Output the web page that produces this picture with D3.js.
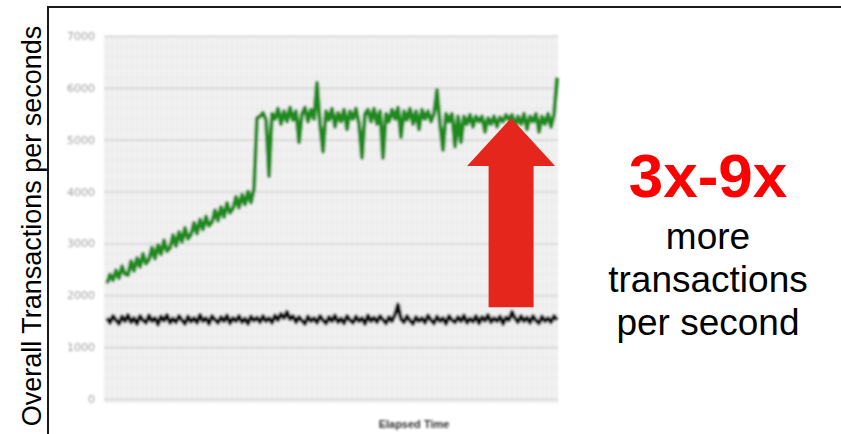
<!DOCTYPE html>
<html>
<head>
<meta charset="utf-8">
<script src="https://cdn.jsdelivr.net/npm/d3@7"></script>
<style>
  html, body { margin: 0; padding: 0; background: #fff; }
  svg { display: block; }
</style>
</head>
<body>
<svg id="chart" width="841" height="434"></svg>
<script>
// ---- data ----
const yTicks = [0, 1000, 2000, 3000, 4000, 5000, 6000, 7000];
const yTickLabels = ["0", "1000", "2000", "3000", "4000", "5000", "6000", "7000"];

// transactions per second, sampled evenly over the elapsed time
const greenTps = [
  2230, 2400, 2290, 2480, 2330, 2560, 2410, 2390, 2660, 2470,
  2720, 2550, 2800, 2610, 2690, 2920, 2710, 2970, 2790, 3060,
  2850, 2910, 3160, 2950, 3220, 3030, 3300, 3090, 3170, 3400,
  3190, 3460, 3270, 3520, 3340, 3410, 3640, 3440, 3700, 3510,
  3780, 3590, 3670, 3900, 3690, 3940, 3750, 4000, 3790, 4060,
  5420, 5450, 5520, 5380, 4300, 5500, 5400, 5600, 5300, 5550,
  5350, 5620, 5380, 5550, 4950, 5500, 5620, 5350, 5580, 5400,
  6100, 5300, 4770, 5550, 5380, 5600, 5250, 5520, 5350, 5580,
  5200, 5550, 5400, 5600, 5300, 4650, 5500, 5580, 5350, 5600,
  5300, 5550, 4650, 5500, 5350, 5580, 5400, 5620, 5050, 5550,
  5380, 5600, 5300, 5550, 5200, 5580, 5400, 5550, 5350, 5500,
  5960, 5300, 4800, 5500, 5350, 5500, 4870, 5450, 4950, 5450,
  5300, 5480, 5250, 5450, 5350, 5450, 5150, 5420, 5300, 5450,
  5250, 5430, 5350, 5480, 5380, 5480, 5250, 5450, 5300, 5500,
  5200, 5450, 5350, 5500, 5150, 5450, 5300, 5500, 5250, 5480,
  6200
];

const blackTps = [
  1560, 1470, 1600, 1520, 1450, 1590, 1500, 1620, 1480, 1560,
  1450, 1600, 1520, 1470, 1610, 1500, 1560, 1440, 1590, 1510,
  1620, 1470, 1550, 1480, 1600, 1520, 1450, 1590, 1490, 1560,
  1470, 1620, 1500, 1560, 1450, 1600, 1530, 1470, 1580, 1500,
  1610, 1460, 1560, 1500, 1600, 1480, 1550, 1450, 1590, 1510,
  1570, 1480, 1600, 1500, 1560, 1470, 1610, 1520, 1640, 1560,
  1680, 1540, 1600, 1480, 1580, 1510, 1450, 1590, 1500, 1560,
  1470, 1600, 1520, 1460, 1580, 1500, 1610, 1480, 1550, 1460,
  1600, 1520, 1470, 1590, 1500, 1560, 1450, 1610, 1500, 1570,
  1480, 1600, 1530, 1460, 1580, 1500, 1630, 1820, 1540, 1480,
  1600, 1510, 1450, 1580, 1500, 1560, 1470, 1610, 1520, 1460,
  1590, 1500, 1560, 1450, 1600, 1520, 1480, 1580, 1500, 1610,
  1470, 1550, 1490, 1600, 1460, 1580, 1510, 1620, 1480, 1560,
  1500, 1590, 1450, 1570, 1520, 1680, 1560, 1480, 1600, 1500,
  1570, 1470, 1600, 1510, 1460, 1590, 1500, 1560, 1480, 1600,
  1520
];

// improvement arrow: sample position and the range it spans
const arrowAt = [134.7];
const arrowRange = [1770, 5420];

const headline = ["3x-9x"];
const calloutLines = ["more", "transactions", "per second"];

// ---- layout ----
const svg = d3.select("#chart");
const panel = { left: 104, right: 558, top: 36, bottom: 403 };
const x = d3.scaleLinear().domain([0, greenTps.length - 1]).range([107, 557]);
const y = d3.scaleLinear().domain([0, 7000]).range([399, 36]);

const defs = svg.append("defs");
defs.append("filter").attr("id", "soft")
  .attr("x", "-5%").attr("y", "-5%").attr("width", "110%").attr("height", "110%")
  .append("feGaussianBlur").attr("stdDeviation", 0.85);

const chart = svg.append("g").attr("filter", "url(#soft)");

// plot background
chart.append("rect")
  .attr("x", panel.left).attr("y", panel.top)
  .attr("width", panel.right - panel.left).attr("height", panel.bottom - panel.top)
  .attr("fill", "#f2f2f2");

// fine grid
const minorY = d3.range(0, 7001, 200);
chart.append("g").selectAll("line.hminor").data(minorY).join("line")
  .attr("x1", panel.left).attr("x2", panel.right)
  .attr("y1", d => y(d)).attr("y2", d => y(d))
  .attr("stroke", "#e6e6e6").attr("stroke-width", 1);
const minorX = d3.range(panel.left + 3, panel.right, 5);
chart.append("g").selectAll("line.vminor").data(minorX).join("line")
  .attr("x1", d => d).attr("x2", d => d)
  .attr("y1", panel.top).attr("y2", panel.bottom)
  .attr("stroke", "#e8e8e8").attr("stroke-width", 1);

// major horizontal gridlines
const grid = chart.append("g")
  .attr("transform", `translate(${panel.left},0)`)
  .call(d3.axisLeft(y).tickValues(yTicks).tickSize(-(panel.right - panel.left)).tickFormat(""));
grid.select(".domain").remove();
grid.selectAll("line").attr("stroke", "#d4d4d4").attr("stroke-width", 1.6);

// y tick labels
const yAxis = chart.append("g")
  .attr("transform", `translate(${panel.left},0)`)
  .call(d3.axisLeft(y).tickValues(yTicks).tickSize(0).tickPadding(9)
    .tickFormat((d, i) => yTickLabels[i]));
yAxis.select(".domain").remove();
yAxis.selectAll("text")
  .attr("fill", "#a0a0a0")
  .style("font-family", "'DejaVu Sans', sans-serif")
  .style("font-size", "11px");

// series
const line = d3.line().x((d, i) => x(i)).y(d => y(d));
chart.append("path").datum(blackTps)
  .attr("d", line).attr("fill", "none")
  .attr("stroke", "#0d0d0d").attr("stroke-width", 4).attr("stroke-linejoin", "round");
chart.append("path").datum(greenTps)
  .attr("d", line).attr("fill", "none")
  .attr("stroke", "#1a8a1a").attr("stroke-width", 4).attr("stroke-linejoin", "round");

// x axis title
chart.append("text")
  .attr("x", 414).attr("y", 428)
  .attr("text-anchor", "middle")
  .attr("fill", "#333")
  .style("font-family", "'Liberation Sans', Arial, sans-serif")
  .style("font-weight", "bold")
  .style("font-size", "11px")
  .text("Elapsed Time");

// frame
svg.append("path")
  .attr("d", "M48,434 V7 H841")
  .attr("fill", "none").attr("stroke", "#1a1a1a").attr("stroke-width", 2);

// y axis title
svg.append("text")
  .attr("transform", "translate(41,226) rotate(-90)")
  .attr("text-anchor", "middle")
  .attr("fill", "#000")
  .style("font-family", "'Liberation Sans', Arial, sans-serif")
  .style("font-size", "27px")
  .text("Overall Transactions per seconds");

// improvement arrow
const ax = x(arrowAt[0]);
const yTop = y(arrowRange[1]);
const yBot = y(arrowRange[0]);
const shaftHalf = 22.5, headHalf = 44, headLen = 48;
svg.append("path")
  .attr("d", d3.line()([
    [ax, yTop],
    [ax + headHalf, yTop + headLen],
    [ax + shaftHalf, yTop + headLen],
    [ax + shaftHalf, yBot],
    [ax - shaftHalf, yBot],
    [ax - shaftHalf, yTop + headLen],
    [ax - headHalf, yTop + headLen]
  ]) + "Z")
  .attr("fill", "#e5261c");

// callout text
svg.append("text")
  .attr("x", 708).attr("y", 197)
  .attr("text-anchor", "middle")
  .attr("fill", "#ff0000")
  .style("font-family", "'Liberation Sans', Arial, sans-serif")
  .style("font-weight", "bold")
  .style("font-size", "62px")
  .text(headline[0]);

const calloutBaselines = [249, 292, 335];
svg.append("g").selectAll("text").data(calloutLines).join("text")
  .attr("x", 708).attr("y", (d, i) => calloutBaselines[i])
  .attr("text-anchor", "middle")
  .attr("fill", "#000")
  .style("font-family", "'Liberation Sans', Arial, sans-serif")
  .style("font-size", "37px")
  .text(d => d);
</script>
</body>
</html>
